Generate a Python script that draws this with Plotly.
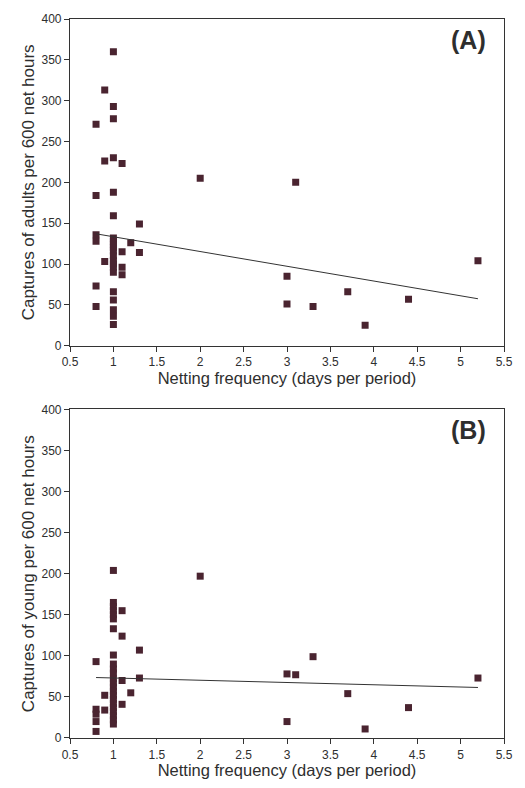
import plotly.graph_objects as go

# Panel A: adults
adult_x = [1, 0.9, 1, 1, 0.8, 0.9, 1, 1.1, 0.8, 1, 1, 1.3, 0.8, 0.8,
           1, 1, 1, 1, 1, 1, 1, 1, 1, 1, 1.2, 1.1, 1.3, 0.9, 1.1, 1.1,
           0.8, 0.8, 1, 1, 1, 1, 1,
           2, 3.1, 3, 3, 3.3, 3.7, 3.9, 4.4, 5.2]
adult_y = [360, 313, 293, 278, 271, 226, 230, 223, 184, 188, 159, 149, 136, 128,
           132, 128, 124, 120, 116, 110, 104, 100, 96, 90, 126, 115, 114, 103, 96, 87,
           73, 48, 66, 56, 44, 36, 26,
           205, 200, 85, 51, 48, 66, 25, 57, 104]

# Panel B: young
young_x = [1, 1, 1, 1, 1, 1, 1.1, 1, 1.1, 1.3, 1, 1, 1, 1, 0.8,
           1, 1, 1, 1, 1, 1, 1, 1, 1, 1, 1, 1,
           1.1, 1.3, 0.9, 1.2, 1.1, 0.9, 0.8, 0.8, 0.8, 0.8,
           2, 3.3, 3, 3.1, 3, 3.7, 3.9, 4.4, 5.2]
young_y = [204, 165, 160, 155, 150, 145, 155, 133, 124, 107, 101, 90, 84, 79, 93,
           72, 67, 62, 57, 52, 47, 42, 37, 32, 27, 22, 17,
           70, 73, 52, 55, 41, 34, 35, 29, 20, 8,
           197, 99, 78, 77, 20, 54, 11, 37, 73]

# Regression lines
fit_x = [0.8, 5.2]
adult_fit = [137, 57.5]
young_fit = [73.6, 61.5]

x_ticks = [0.5, 1, 1.5, 2, 2.5, 3, 3.5, 4, 4.5, 5, 5.5]
x_tick_text = ["0.5", "1", "1.5", "2", "2.5", "3", "3.5", "4", "4.5", "5", "5.5"]
y_ticks = [0, 50, 100, 150, 200, 250, 300, 350, 400]

marker_color = "#4a2430"
line_color = "#333333"
text_color = "#2e2e2e"
font_family = "Liberation Sans, Arial, sans-serif"

fig = go.Figure()
mk = dict(symbol="square", size=7, color=marker_color, line=dict(width=0))
fig.add_trace(go.Scatter(x=adult_x, y=adult_y, mode="markers", marker=mk, xaxis="x", yaxis="y"))
fig.add_trace(go.Scatter(x=fit_x, y=adult_fit, mode="lines", line=dict(color=line_color, width=1), xaxis="x", yaxis="y"))
fig.add_trace(go.Scatter(x=young_x, y=young_y, mode="markers", marker=mk, xaxis="x2", yaxis="y2"))
fig.add_trace(go.Scatter(x=fit_x, y=young_fit, mode="lines", line=dict(color=line_color, width=1), xaxis="x2", yaxis="y2"))

ax_common = dict(showgrid=False, zeroline=False, showline=True, linecolor="#333333", linewidth=1.2,
                 mirror=True, ticks="outside", ticklen=5, tickcolor="#333333",
                 tickfont=dict(size=12, color=text_color))
xa = dict(ax_common, range=[0.5, 5.5], tickvals=x_ticks, ticktext=x_tick_text,
          ticklabeloverflow="allow",
          title=dict(text="Netting frequency (days per period)", font=dict(size=16.5, color=text_color), standoff=3))

def ya(title):
    return dict(ax_common, range=[0, 400], tickvals=y_ticks,
                title=dict(text=title, font=dict(size=17, color=text_color), standoff=2))

fig.update_layout(
    width=525, height=788,
    margin=dict(l=70, r=12, t=12, b=41),
    paper_bgcolor="white", plot_bgcolor="white",
    showlegend=False,
    font=dict(family=font_family, color=text_color),
    xaxis=dict(xa, domain=[0, 1], anchor="y"),
    yaxis=dict(ya("Captures of adults per 600 net hours"), domain=[0.5456, 1], anchor="x"),
    xaxis2=dict(xa, domain=[0, 1], anchor="y2"),
    yaxis2=dict(ya("Captures of young per 600 net hours"), domain=[0, 0.457], anchor="x2"),
    annotations=[
        dict(text="<b>(A)</b>", xref="x domain", yref="y domain", x=0.962, y=0.985,
             xanchor="right", yanchor="top", showarrow=False, font=dict(size=25, color=text_color)),
        dict(text="<b>(B)</b>", xref="x2 domain", yref="y2 domain", x=0.962, y=0.985,
             xanchor="right", yanchor="top", showarrow=False, font=dict(size=25, color=text_color)),
    ],
)

fig.write_html("out.html", config={"displayModeBar": False},
               post_script="document.body.style.margin='0';document.body.style.overflow='hidden';")
